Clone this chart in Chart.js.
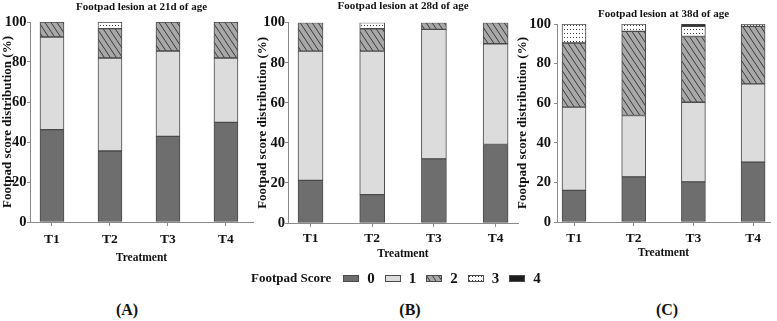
<!DOCTYPE html>
<html>
<head>
<meta charset="utf-8">
<script src="https://cdn.jsdelivr.net/npm/chart.js@4/dist/chart.umd.min.js"></script>
<style>
  body { margin: 0; background: #fff; }
  #wrap { position: relative; width: 777px; height: 321px; overflow: hidden;
          font-family: "Liberation Serif", "Times New Roman", serif; font-weight: bold; color: #111; }
  canvas.panel { position: absolute; top: 0; }
  #legend { position: absolute; left: 251px; top: 270px; height: 16px; display: flex; align-items: center; }
  #legend .name { font-size: 13px; margin-right: 12px; }
  #legend canvas { display: block; }
  #legend .lab { font-size: 15px; margin-left: 8px; margin-right: 10px; }
  .tag { position: absolute; top: 301px; width: 40px; text-align: center; font-size: 16px; line-height: 18px; }
</style>
</head>
<body>
<div id="wrap">
  <canvas id="chartA" class="panel" width="258" height="270" style="left:0px;width:258px;height:270px"></canvas>
  <canvas id="chartB" class="panel" width="265" height="270" style="left:255px;width:265px;height:270px"></canvas>
  <canvas id="chartC" class="panel" width="262" height="270" style="left:515px;width:262px;height:270px"></canvas>
  <div id="legend"><span class="name">Footpad Score</span></div>
  <div class="tag" style="left:107px">(A)</div>
  <div class="tag" style="left:390px">(B)</div>
  <div class="tag" style="left:647px">(C)</div>
</div>
<script>
const treatments = ['T1', 'T2', 'T3', 'T4'];
const scores = ['0', '1', '2', '3', '4'];

// % of birds per footpad score, 21 d
const d21_s0 = [46.2, 35.5, 42.8, 49.8];
const d21_s1 = [46.3, 46.5, 42.7, 32.2];
const d21_s2 = [7.5, 14.7, 14.5, 18.0];
const d21_s3 = [0, 3.3, 0, 0];
const d21_s4 = [0, 0, 0, 0];

// 28 d
const d28_s0 = [21.3, 14.2, 32.0, 39.2];
const d28_s1 = [64.5, 71.6, 64.7, 50.3];
const d28_s2 = [14.2, 11.2, 3.3, 10.5];
const d28_s3 = [0, 3.0, 0, 0];
const d28_s4 = [0, 0, 0, 0];

// 38 d
const d38_s0 = [16.0, 22.8, 20.3, 30.2];
const d38_s1 = [42.0, 31.0, 40.2, 39.6];
const d38_s2 = [32.4, 42.5, 33.2, 29.0];
const d38_s3 = [9.6, 3.7, 5.1, 1.2];
const d38_s4 = [0, 0, 1.2, 0];

const SERIF = '"Liberation Serif", "Times New Roman", serif';
const EDGE = '#4a4a4a';
const AXIS = '#8a8a8a';

function hatch(ctx) {
    const c = document.createElement('canvas');
    c.width = 6; c.height = 9;
    const g = c.getContext('2d');
    g.fillStyle = '#a8a8a8';
    g.fillRect(0, 0, 6, 9);
    g.strokeStyle = '#3a3a3a';
    g.lineWidth = 1;
    g.beginPath();
    [-6, 0, 6].forEach(dx => {
        g.moveTo(dx - 1, -1.5);
        g.lineTo(dx + 7, 10.5);
    });
    g.stroke();
    return ctx.createPattern(c, 'repeat');
}

function dots(ctx) {
    const c = document.createElement('canvas');
    c.width = 3; c.height = 4;
    const g = c.getContext('2d');
    g.fillStyle = '#ffffff';
    g.fillRect(0, 0, 3, 4);
    g.fillStyle = '#3c3c3c';
    g.fillRect(1, 1, 1, 1);
    return ctx.createPattern(c, 'repeat');
}

function fills(ctx) {
    return ['#6e6e6e', '#dcdcdc', hatch(ctx), dots(ctx), '#1c1c1c'];
}

function makeDatasets(ctx, series, thickness) {
    const f = fills(ctx);
    return series.map((vals, k) => ({
        label: scores[k],
        data: vals.map((v, i) => ({ x: i + 1, y: v || null })),
        backgroundColor: f[k],
        borderColor: EDGE,
        borderWidth: 1,
        borderSkipped: false,
        barThickness: thickness
    }));
}

function buildPanel(id, title, series, cfg) {
    const canvas = document.getElementById(id);
    const ctx = canvas.getContext('2d');
    return new Chart(ctx, {
        type: 'bar',
        data: { datasets: makeDatasets(ctx, series, cfg.bar) },
        options: {
            responsive: false,
            animation: false,
            devicePixelRatio: 1,
            layout: { padding: { right: cfg.padRight } },
            plugins: {
                legend: { display: false },
                tooltip: { enabled: false },
                title: {
                    display: true, text: title, fullSize: false, color: '#111',
                    font: { family: SERIF, size: 11, weight: 'bold' },
                    padding: { top: cfg.titleTop, bottom: cfg.titleBottom }
                }
            },
            scales: {
                x: {
                    type: 'linear', stacked: true, offset: false, min: cfg.xMin, max: cfg.xMax,
                    afterBuildTicks: s => { s.ticks = treatments.map((_, i) => ({ value: i + 1 })); },
                    afterFit: s => { s.height = cfg.xHeight; },
                    ticks: {
                        callback: v => treatments[v - 1], maxRotation: 0, autoSkip: false,
                        padding: cfg.xTickPad, color: '#111',
                        font: { family: SERIF, size: 13.5, weight: 'bold' }
                    },
                    grid: { offset: false, drawOnChartArea: false, tickLength: 4, color: AXIS },
                    border: { color: AXIS },
                    title: {
                        display: true, text: 'Treatment', color: '#111',
                        font: { family: SERIF, size: 11.5, weight: 'bold' },
                        padding: { top: 0, bottom: cfg.xTitlePad }
                    }
                },
                y: {
                    stacked: true, min: 0, max: 100,
                    afterFit: s => { s.width = cfg.yWidth; },
                    ticks: {
                        stepSize: 20, padding: cfg.yTickPad, color: '#111',
                        font: { family: SERIF, size: 14.5, weight: 'bold' }
                    },
                    grid: { drawOnChartArea: false, tickLength: 3, color: AXIS },
                    border: { color: AXIS },
                    title: {
                        display: true, text: 'Footpad score distribution (%)', color: '#111',
                        font: { family: SERIF, size: 13, weight: 'bold' },
                        padding: { top: cfg.yTitlePad, bottom: 0 }
                    }
                }
            }
        }
    });
}

buildPanel('chartA', 'Footpad lesion at 21d of age',
    [d21_s0, d21_s1, d21_s2, d21_s3, d21_s4],
    { bar: 24, padRight: 5, xMin: 0.621, xMax: 4.466, xHeight: 48, xTickPad: 5.5, xTitlePad: 5.5,
      yWidth: 30, yTickPad: 0.5, yTitlePad: 0, titleTop: 0.7, titleBottom: 8.1 });

buildPanel('chartB', 'Footpad lesion at 28d of age',
    [d28_s0, d28_s1, d28_s2, d28_s3, d28_s4],
    { bar: 25, padRight: 2, xMin: 0.635, xMax: 4.363, xHeight: 47, xTickPad: 3.7, xTitlePad: 8.9,
      yWidth: 33, yTickPad: 0, yTitlePad: 0, titleTop: 0, titleBottom: 9.5 });

buildPanel('chartC', 'Footpad lesion at 38d of age',
    [d38_s0, d38_s1, d38_s2, d38_s3, d38_s4],
    { bar: 24, padRight: 7, xMin: 0.715, xMax: 4.283, xHeight: 48, xTickPad: 4, xTitlePad: 9.9,
      yWidth: 42, yTickPad: 3, yTitlePad: 0, titleTop: 7.4, titleBottom: 3.4 });

// shared legend below panel B
const legend = document.getElementById('legend');
scores.forEach((s, k) => {
    const sw = document.createElement('canvas');
    sw.width = 16; sw.height = 7;
    const g = sw.getContext('2d');
    g.fillStyle = fills(g)[k];
    g.fillRect(0, 0, 16, 7);
    g.strokeStyle = EDGE;
    g.strokeRect(0.5, 0.5, 15, 6);
    const lab = document.createElement('span');
    lab.className = 'lab';
    lab.textContent = s;
    legend.appendChild(sw);
    legend.appendChild(lab);
});
</script>
</body>
</html>
